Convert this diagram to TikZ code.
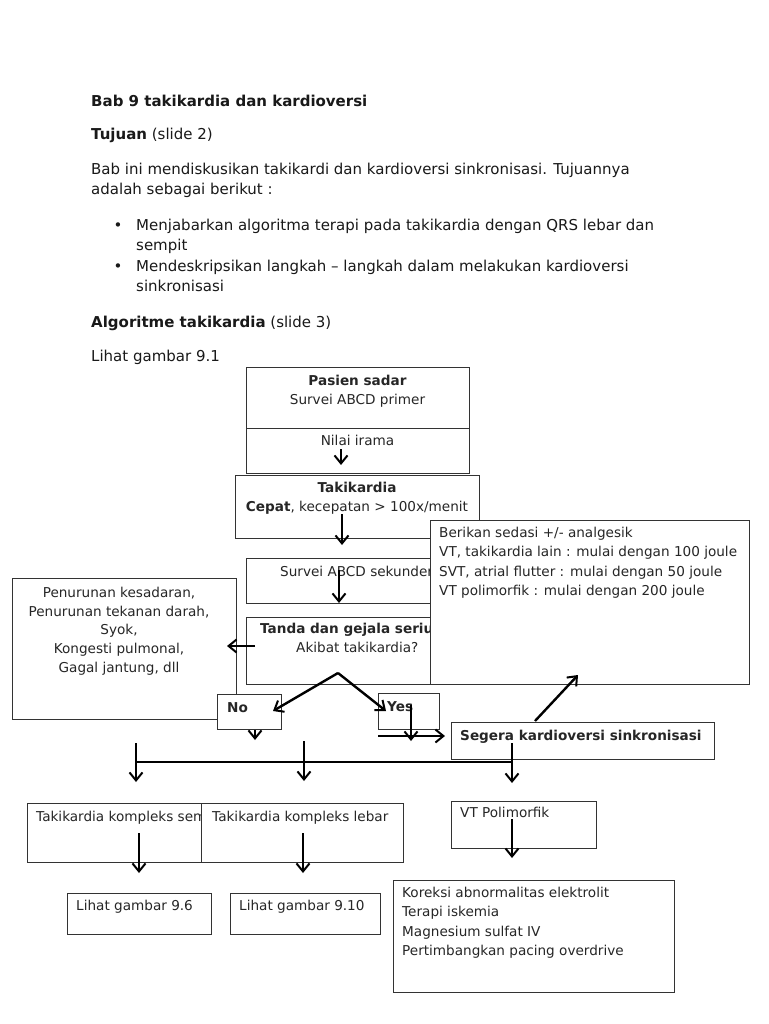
\documentclass[tikz,border=0pt]{standalone}
\usepackage{fontspec}
\setmainfont{DejaVu Sans}
\usetikzlibrary{arrows.meta}
\tikzset{
 box/.style={draw=black!80, line width=1pt, fill=white, inner sep=0pt, anchor=north west},
 body/.style={font=\fontsize{15}{20}\selectfont, text=black!90, inner sep=0pt, anchor=base west},
 ftxt/.style={font=\fontsize{13.6}{19}\selectfont, text=black!85, inner sep=0pt, anchor=base west},
 ctxt/.style={ftxt, anchor=base},
 arr/.style={line width=2.4pt, -{Straight Barb[length=8pt,width=13pt,line width=2pt]}},
 bar/.style={line width=2.4pt},
}
\begin{document}
\begin{tikzpicture}[x=1pt,y=-1pt]
\fill[white] (0,0) rectangle (768,1024);
\useasboundingbox (0,0) rectangle (768,1024);

% ---------- coordinates for connectors ----------
\coordinate (n1) at (341,449); \coordinate (n2) at (341,465);
\coordinate (k1) at (342,514); \coordinate (k2) at (342,545);
\coordinate (s1) at (339,570); \coordinate (s2) at (339,603);
\coordinate (l1) at (255,646); \coordinate (l2) at (227,646);
\coordinate (apex) at (338,673);
\coordinate (noTip) at (273,711); \coordinate (yesTip) at (386,711);
\coordinate (nd1) at (255,705); \coordinate (nd2) at (255,740);
\coordinate (y1) at (411,705); \coordinate (y2) at (411,741);
\coordinate (h1) at (378,736); \coordinate (h2) at (445,736);
\coordinate (g1) at (535,721); \coordinate (g2) at (578,675);
\coordinate (barL) at (136,762); \coordinate (barR) at (512,762);
\coordinate (v1a) at (136,743); \coordinate (v1b) at (136,782);
\coordinate (v2a) at (304,741); \coordinate (v2b) at (304,781);
\coordinate (v3a) at (512,743); \coordinate (v3b) at (512,783);
\coordinate (w1a) at (139,833); \coordinate (w1b) at (139,873);
\coordinate (w2a) at (303,833); \coordinate (w2b) at (303,873);
\coordinate (p1) at (512,819); \coordinate (p2) at (512,858);

% ---------- body text ----------
\node[body] (t1) at (91,107) {\textbf{Bab 9 takikardia dan kardioversi}};
\node[body] (t2) at (91,140) {\textbf{Tujuan} (slide 2)};
\node[body] (t3) at (91,175) {Bab ini mendiskusikan takikardi dan kardioversi sinkronisasi. Tujuannya};
\node[body] (t4) at (91,195) {adalah sebagai berikut :};
\node[body, anchor=base] (b1) at (118,231) {•};
\node[body] (t5) at (136,231) {Menjabarkan algoritma terapi pada takikardia dengan QRS lebar dan};
\node[body] (t6) at (136,251) {sempit};
\node[body, anchor=base] (b2) at (118,271) {•};
\node[body] (t7) at (136,271) {Mendeskripsikan langkah – langkah dalam melakukan kardioversi};
\node[body] (t8) at (136,291) {sinkronisasi};
\node[body] (t9) at (91,327) {\textbf{Algoritme takikardia} (slide 3)};
\node[body] (t10) at (91,361) {Lihat gambar 9.1};

% ---------- top boxes ----------
\node[box, minimum width=223, minimum height=61] (pasien) at (246,367) {};
\node[box, minimum width=223, minimum height=45] (nilai) at (246,428) {};
\node[ctxt] (pasienT) at (357.5,385) {\textbf{Pasien sadar}};
\node[ctxt] (pasienT2) at (357.5,404) {Survei ABCD primer};
\node[ctxt] (nilaiT) at (357.5,445) {Nilai irama};
\draw[arr, line width=2pt] (n1) -- (n2);

\node[box, minimum width=244, minimum height=63] (taki) at (235,475) {};
\node[ctxt] (takiT) at (357,492) {\textbf{Takikardia}};
\node[ctxt] (takiT2) at (357,511) {\textbf{Cepat}, kecepatan > 100x/menit};
\draw[arr] (k1) -- (k2);

\node[box, minimum width=200, minimum height=45] (sek) at (246,558) {};
\node[ftxt] (sekT) at (280,576) {Survei ABCD sekunder};
\draw[arr] (s1) -- (s2);

\node[box, minimum width=200, minimum height=67] (tanda) at (246,617) {};
\node[ftxt] (tandaT) at (260,633) {\textbf{Tanda dan gejala serius}};
\node[ftxt] (tandaT2) at (296,652) {Akibat takikardia?};

% ---------- Berikan box (on top) ----------
\node[box, minimum width=319, minimum height=164] (berikan) at (430,520) {};
\node[ftxt] (be1) at (439,537) {Berikan sedasi +/- analgesik};
\node[ftxt] (be2) at (439,556.5) {VT, takikardia lain : mulai dengan 100 joule};
\node[ftxt] (be3) at (439,576) {SVT, atrial flutter : mulai dengan 50 joule};
\node[ftxt] (be4) at (439,595) {VT polimorfik : mulai dengan 200 joule};

% ---------- Penurunan box ----------
\node[box, minimum width=224, minimum height=141] (turun) at (12,578) {};
\node[ctxt] (tu1) at (119,597) {Penurunan kesadaran,};
\node[ctxt] (tu2) at (119,616) {Penurunan tekanan darah,};
\node[ctxt] (tu3) at (119,634.5) {Syok,};
\node[ctxt] (tu4) at (119,653) {Kongesti pulmonal,};
\node[ctxt] (tu5) at (119,672) {Gagal jantung, dll};
\draw[arr] (l1) -- (l2);

% ---------- No / Yes ----------
\draw[arr] (nd1) -- (nd2);
\node[box, minimum width=64, minimum height=35] (no) at (217,694) {};
\node[ftxt] (noT) at (227,712) {\textbf{No}};
\node[box, minimum width=61, minimum height=36] (yes) at (378,693) {};
\node[ftxt] (yesT) at (387,711) {\textbf{Yes}};
\draw[arr] (apex) -- (noTip);
\draw[arr] (apex) -- (yesTip);
\draw[arr] (y1) -- (y2);
\draw[arr] (h1) -- (h2);

% ---------- Segera ----------
\node[box, minimum width=263, minimum height=37] (segera) at (451,722) {};
\node[ftxt] (segT) at (460,740) {\textbf{Segera kardioversi sinkronisasi}};
\draw[arr] (g1) -- (g2);

% ---------- branch bar ----------
\draw[bar] (barL) -- (barR);
\draw[arr] (v1a) -- (v1b);
\draw[arr] (v2a) -- (v2b);
\draw[arr] (v3a) -- (v3b);

% ---------- bottom boxes ----------
\node[box, minimum width=174, minimum height=59] (sempit) at (27,803) {};
\node[ftxt] (sempitT) at (36,821) {Takikardia kompleks sempit};
\node[box, minimum width=202, minimum height=59] (lebar) at (201,803) {};
\node[ftxt] (lebarT) at (212,821) {Takikardia kompleks lebar};
\draw[arr] (w1a) -- (w1b);
\draw[arr] (w2a) -- (w2b);

\node[box, minimum width=144, minimum height=41] (g96) at (67,893) {};
\node[ftxt] (g96T) at (76,910) {Lihat gambar 9.6};
\node[box, minimum width=150, minimum height=41] (g910) at (230,893) {};
\node[ftxt] (g910T) at (239,910) {Lihat gambar 9.10};

\node[box, minimum width=145, minimum height=47] (vt) at (451,801) {};
\node[ftxt] (vtT) at (460,817) {VT Polimorfik};
\draw[arr] (p1) -- (p2);

\node[box, minimum width=281, minimum height=112] (koreksi) at (393,880) {};
\node[ftxt] (ko1) at (402,897) {Koreksi abnormalitas elektrolit};
\node[ftxt] (ko2) at (402,916.5) {Terapi iskemia};
\node[ftxt] (ko3) at (402,936) {Magnesium sulfat IV};
\node[ftxt] (ko4) at (402,955) {Pertimbangkan pacing overdrive};
\end{tikzpicture}
\end{document}
